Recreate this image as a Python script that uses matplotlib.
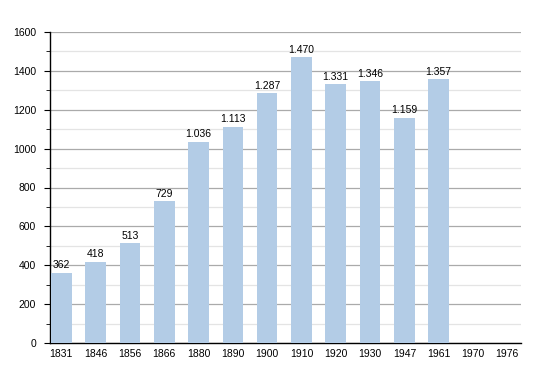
import matplotlib
matplotlib.use("Agg")
import matplotlib.pyplot as plt
from matplotlib.ticker import MultipleLocator

years = ["1831", "1846", "1856", "1866", "1880", "1890", "1900", "1910", "1920", "1930", "1947", "1961", "1970", "1976"]
population = [362, 418, 513, 729, 1036, 1113, 1287, 1470, 1331, 1346, 1159, 1357, None, None]

plt.rcParams['font.family'] = ['Liberation Sans', 'DejaVu Sans']
fig = plt.figure(figsize=(5.5, 3.73), dpi=100)
ax = fig.add_axes([50/550, 1-343/373, (521-50)/550, (343-32)/373])

x = list(range(len(years)))
vals = [v if v is not None else 0 for v in population]
bars = ax.bar(x, vals, width=0.6, color="#b3cce6", zorder=3)
for xi, v in zip(x, population):
    if v is None:
        continue
    lab = f"{v:,}".replace(",", ".")
    ax.text(xi, v + 12, lab, ha="center", va="bottom", fontsize=7.5, zorder=4)

ax.set_xlim(-0.33, 13.4)
ax.set_ylim(0, 1600)
ax.yaxis.set_major_locator(MultipleLocator(200))
ax.yaxis.set_minor_locator(MultipleLocator(100))
ax.grid(which="major", axis="y", color="#aaaaaa", linewidth=0.9, zorder=0)
ax.grid(which="minor", axis="y", color="#e4e4e4", linewidth=0.9, zorder=0)
ax.set_xticks(x)
ax.set_xticklabels(years)
for s in ["top", "right"]:
    ax.spines[s].set_visible(False)
ax.spines["left"].set_linewidth(1.0)
ax.spines["bottom"].set_linewidth(1.0)
ax.tick_params(axis="x", length=0, labelsize=7.5, pad=4)
ax.tick_params(axis="y", which="major", length=4, labelsize=7.5, pad=6)
ax.tick_params(axis="y", which="minor", length=3)
fig.savefig("out.png", dpi=100)
